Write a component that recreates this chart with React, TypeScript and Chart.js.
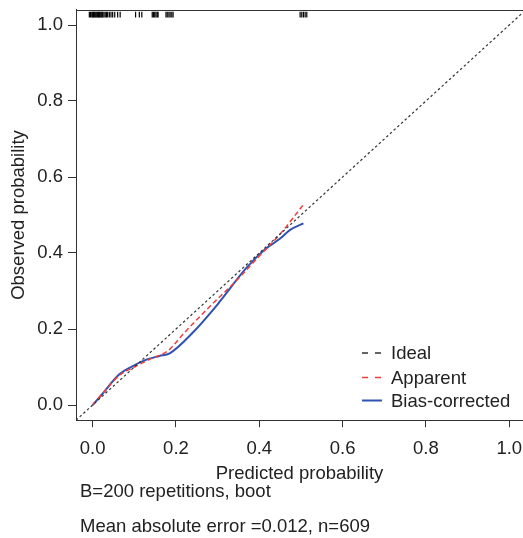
import React, { useEffect, useRef } from "react";
import { Chart, registerables } from "chart.js";

Chart.register(...registerables);

// ---- data ----
const TICK_VALUES = [0, 0.2, 0.4, 0.6, 0.8, 1.0];

const idealX = [-0.04, 1.04];
const idealY = [-0.04, 1.04];

const apparentX = [0, 0.03, 0.064, 0.1, 0.14, 0.18, 0.22, 0.28, 0.35, 0.4, 0.45, 0.505];
const apparentY = [0, 0.038, 0.078, 0.1, 0.122, 0.142, 0.19, 0.258, 0.333, 0.392, 0.45, 0.526];

const biasX = [0, 0.02, 0.064, 0.094, 0.126, 0.16, 0.185, 0.24, 0.3, 0.37, 0.414, 0.45, 0.474, 0.506];
const biasY = [0, 0.025, 0.081, 0.101, 0.118, 0.129, 0.136, 0.19, 0.265, 0.362, 0.41, 0.438, 0.461, 0.478];

// rug of predicted probabilities (top of the plot)
const rugX = [
  -0.008, -0.005, -0.002, 0.0, 0.002, 0.004, 0.006, 0.008, 0.01, 0.012, 0.014, 0.016, 0.018,
  0.02, 0.022, 0.024, 0.027, 0.03, 0.033, 0.036, 0.04, 0.044, 0.048,
  0.053, 0.06, 0.066,
  0.103, 0.112, 0.118,
  0.143, 0.146, 0.149, 0.152, 0.155, 0.157,
  0.176, 0.179, 0.183, 0.186, 0.19, 0.193,
  0.498, 0.502, 0.506, 0.51, 0.514,
];
const RUG_Y = 1.0275;

const SERIES_LABELS = ["Ideal", "Apparent", "Bias-corrected"];
const X_TITLE = "Predicted probability";
const Y_TITLE = "Observed probability";
const FOOTER_LINES = ["B=200 repetitions, boot", "Mean absolute error =0.012, n=609"];

// ---- styles ----
const FONT = "'Liberation Sans', Arial, Helvetica, sans-serif";
const FONT_SIZE = 18.5;
const TEXT_COLOR = "#222222";
const AXIS_COLOR = "#333333";
const IDEAL_COLOR = "#333333";
const APPARENT_COLOR = "#F23C3C";
const BIAS_COLOR = "#2F52B3";

const W = 523;
const H = 538;

const toPoints = (xs: number[], ys: number[]) => xs.map((x, i) => ({ x, y: ys[i] }));

const decorPlugin = {
  id: "decor",
  afterDraw(chart: any) {
    const ctx: CanvasRenderingContext2D = chart.ctx;
    const { left, right, top } = chart.chartArea;
    ctx.save();
    // top box line
    ctx.strokeStyle = AXIS_COLOR;
    ctx.lineWidth = 1;
    ctx.setLineDash([]);
    ctx.beginPath();
    const ty = Math.round(top) + 0.5;
    ctx.moveTo(left, ty);
    ctx.lineTo(right, ty);
    ctx.stroke();

    // legend
    const rows = [353, 377.5, 400.5];
    const lx0 = 362;
    const lx1 = 382;
    const tx = 391;
    ctx.font = `${FONT_SIZE}px ${FONT}`;
    ctx.textBaseline = "middle";
    ctx.textAlign = "left";
    const ds = chart.data.datasets.filter((d: any) => d.legendDash);
    ds.forEach((d: any, i: number) => {
      const y = rows[i];
      ctx.strokeStyle = d.borderColor;
      ctx.lineWidth = d.legendWidth;
      ctx.setLineDash(d.legendDash);
      ctx.beginPath();
      ctx.moveTo(lx0, y);
      ctx.lineTo(lx1, y);
      ctx.stroke();
      ctx.setLineDash([]);
      ctx.fillStyle = TEXT_COLOR;
      ctx.fillText(d.label, tx, y + 1);
    });

    // footer text
    ctx.textBaseline = "alphabetic";
    ctx.fillStyle = TEXT_COLOR;
    ctx.fillText(FOOTER_LINES[0], 80, 497);
    ctx.fillText(FOOTER_LINES[1], 80, 531.5);
    ctx.restore();
  },
};

export default function App() {
  const ref = useRef<HTMLCanvasElement>(null);

  useEffect(() => {
    if (!ref.current) return;
    const chart = new Chart(ref.current, {
      type: "line",
      data: {
        datasets: [
          {
            label: SERIES_LABELS[0],
            data: toPoints(idealX, idealY),
            borderColor: IDEAL_COLOR,
            borderWidth: 1.2,
            borderDash: [2.5, 2.5],
            pointRadius: 0,
            fill: false,
            legendDash: [6, 7],
            legendWidth: 1.3,
          } as any,
          {
            label: SERIES_LABELS[1],
            data: toPoints(apparentX, apparentY),
            borderColor: APPARENT_COLOR,
            borderWidth: 1.5,
            borderDash: [5, 3],
            pointRadius: 0,
            fill: false,
            cubicInterpolationMode: "monotone",
            legendDash: [6, 7],
            legendWidth: 1.5,
          } as any,
          {
            label: SERIES_LABELS[2],
            data: toPoints(biasX, biasY),
            borderColor: BIAS_COLOR,
            borderWidth: 2,
            pointRadius: 0,
            fill: false,
            cubicInterpolationMode: "monotone",
            legendDash: [],
            legendWidth: 2,
          } as any,
          {
            label: "rug",
            type: "scatter",
            data: rugX.map((x) => ({ x, y: RUG_Y })),
            pointStyle: "line",
            rotation: 90,
            pointRadius: 2.9,
            borderColor: "#000000",
            backgroundColor: "#000000",
            borderWidth: 1.2,
            showLine: false,
          } as any,
        ],
      },
      options: {
        animation: false,
        responsive: false,
        devicePixelRatio: 1,
        events: [],
        layout: { autoPadding: false, padding: { top: 9.8, right: 0, left: 0, bottom: 47.8 } },
        plugins: {
          legend: { display: false },
          tooltip: { enabled: false },
          title: { display: false },
        },
        scales: {
          x: {
            type: "linear",
            min: -0.04,
            max: 1.033,
            afterFit: (s: any) => {
              s.height = 70;
              s.paddingLeft = 0;
              s.paddingRight = 0;
              s.paddingTop = 0;
              s.paddingBottom = 0;
            },
            afterBuildTicks: (s: any) => {
              s.ticks = TICK_VALUES.map((v) => ({ value: v }));
            },
            grid: {
              drawOnChartArea: false,
              drawTicks: true,
              tickLength: 7,
              color: AXIS_COLOR,
            },
            border: { display: true, color: AXIS_COLOR, width: 1 },
            ticks: {
              color: TEXT_COLOR,
              font: { family: FONT, size: FONT_SIZE },
              padding: 11,
              maxRotation: 0,
              callback: (v: any) => Number(v).toFixed(1),
            },
            title: {
              display: true,
              text: X_TITLE,
              color: TEXT_COLOR,
              font: { family: FONT, size: FONT_SIZE },
              padding: { top: 0, bottom: 5 },
            },
          },
          y: {
            type: "linear",
            min: -0.04,
            max: 1.04,
            afterFit: (s: any) => {
              s.width = 76;
              s.paddingTop = 0;
              s.paddingBottom = 0;
              s.paddingLeft = 0;
              s.paddingRight = 0;
            },
            afterBuildTicks: (s: any) => {
              s.ticks = TICK_VALUES.map((v) => ({ value: v }));
            },
            grid: {
              drawOnChartArea: false,
              drawTicks: true,
              tickLength: 8,
              color: AXIS_COLOR,
            },
            border: { display: true, color: AXIS_COLOR, width: 1 },
            ticks: {
              color: TEXT_COLOR,
              font: { family: FONT, size: FONT_SIZE },
              padding: 5,
              callback: (v: any) => Number(v).toFixed(1),
            },
            title: {
              display: true,
              text: Y_TITLE,
              color: TEXT_COLOR,
              font: { family: FONT, size: FONT_SIZE },
              padding: { top: 8.1, bottom: 0 },
            },
          },
        },
      } as any,
      plugins: [decorPlugin],
    });
    return () => chart.destroy();
  }, []);

  return (
    <div style={{ position: "fixed", left: 0, top: 0, width: W, height: H, background: "#fff" }}>
      <canvas ref={ref} width={W} height={H} style={{ display: "block" }} />
    </div>
  );
}
